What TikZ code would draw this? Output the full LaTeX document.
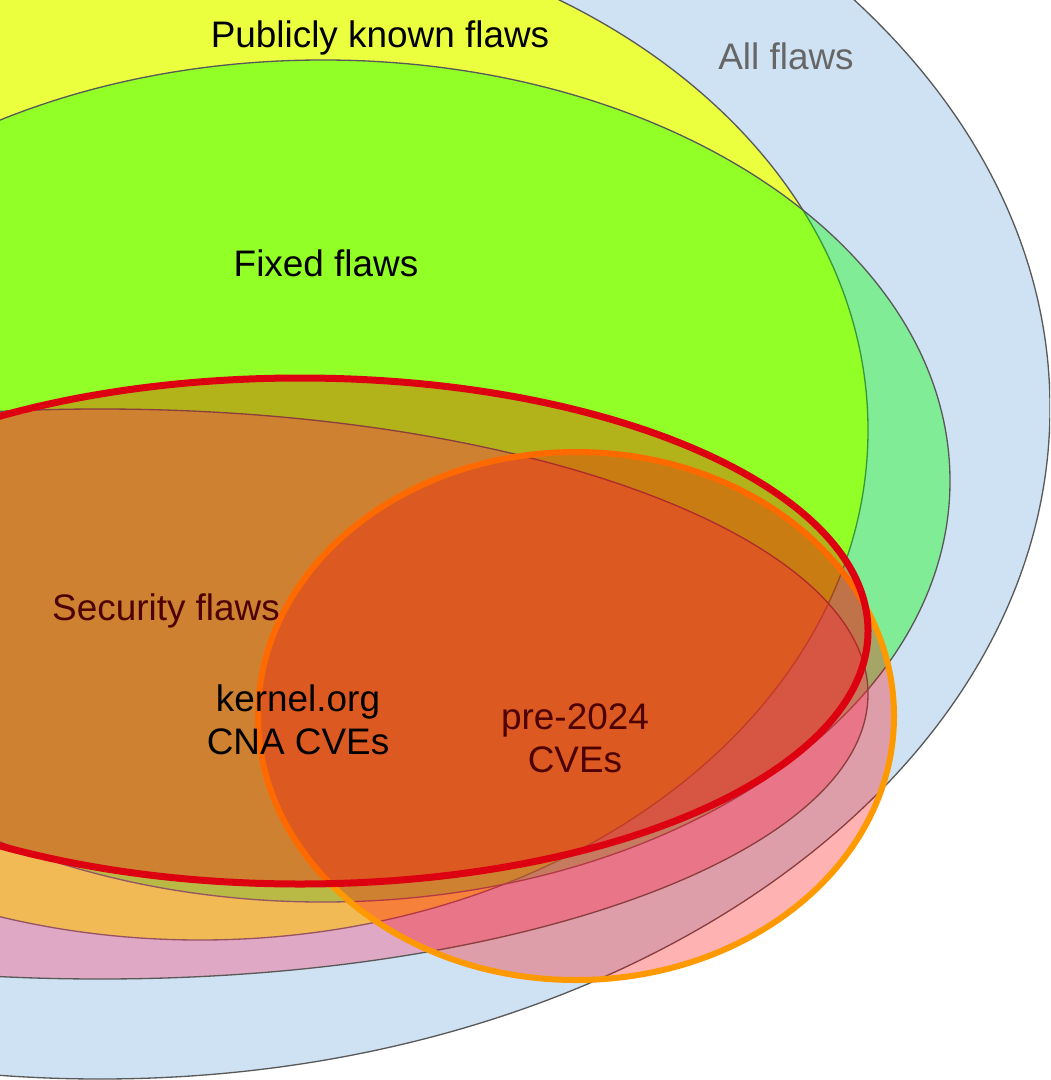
\documentclass[tikz,border=0pt]{standalone}
\usepackage{fontspec}
\setmainfont{Liberation Sans}
\definecolor{allblue}{HTML}{CFE2F3}
\definecolor{pubyellow}{HTML}{ECFF3E}
\definecolor{edgegray}{HTML}{595959}
\definecolor{secpink}{RGB}{250,75,120}
\definecolor{kred}{RGB}{221,0,17}
\definecolor{porange}{HTML}{FF9900}
\definecolor{labelgray}{HTML}{666666}
\begin{document}
\begin{tikzpicture}[
  setline/.style={draw=edgegray, line width=0.75pt},
  lbl/.style={font=\fontsize{21}{24.4}\selectfont, inner sep=0pt, align=center},
]
\useasboundingbox (0,0) rectangle (21,-21.6);
\clip (0,0) rectangle (21,-21.6);
\fill[white] (0,0) rectangle (21,-21.6);
% All flaws
\path[setline, fill=allblue] (2.0,-8.16) ellipse [x radius=19cm, y radius=13.42cm];
% Publicly known flaws
\path[setline, fill=pubyellow] (4.0,-8.6) ellipse [x radius=13.36cm, y radius=10.2cm];
% Fixed flaws
\path[setline, fill=green, fill opacity=0.38] (6.46,-9.62) ellipse [x radius=12.54cm, y radius=8.42cm];
% Security flaws
\path[setline, fill=secpink, fill opacity=0.38] (2.0,-13.88) ellipse [x radius=15.36cm, y radius=5.7cm];
\node[lbl, anchor=base] (sec) at (3.32,-12.40) {Security flaws};
% pre-2024 CVEs
\path[draw=porange, line width=0.12cm, fill=red, fill opacity=0.3] (11.52,-14.32) ellipse [x radius=6.36cm, y radius=5.28cm];
\node[lbl] (pre) at (11.5,-14.77) {pre-2024\\CVEs};
% kernel.org CNA CVEs
\path[draw=kred, line width=0.14cm, fill=red, fill opacity=0.3] (6.0,-12.62) ellipse [x radius=11.36cm, y radius=5.06cm];
\node[lbl] (cna) at (5.96,-14.40) {kernel.org\\CNA CVEs};
% top labels
\node[lbl, anchor=base] (pub) at (7.6,-0.96) {Publicly known flaws};
\node[lbl, anchor=base, text=labelgray] (all) at (15.72,-1.40) {All flaws};
\node[lbl, anchor=base] (fixed) at (6.52,-5.52) {Fixed flaws};
\end{tikzpicture}
\end{document}
